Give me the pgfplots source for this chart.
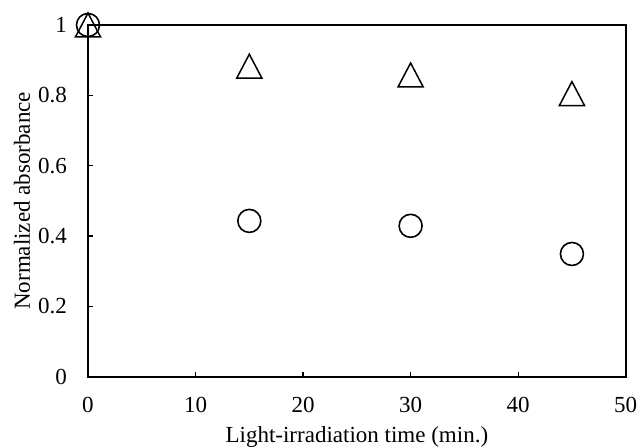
\documentclass[border=0pt]{standalone}
\usepackage{pgfplots}
\pgfplotsset{compat=1.18}
\usepackage{fontspec}
\setmainfont{Liberation Serif}
\begin{document}
\fontsize{23bp}{27bp}\selectfont
\begin{tikzpicture}
\useasboundingbox (-88bp,-71.3bp) rectangle (550bp,376.7bp);
\begin{axis}[
  at={(0,0)}, anchor=south west,
  scale only axis,
  width=537.7bp, height=351.7bp,
  xmin=0, xmax=50, ymin=0, ymax=1,
  xtick={0,10,20,30,40,50},
  ytick={0,0.2,0.4,0.6,0.8,1},
  yticklabels={0,0.2,0.4,0.6,0.8,1},
  xticklabels={0,10,20,30,40,50},
  tick align=inside,
  xtick pos=bottom, ytick pos=left,
  major tick length=5bp,
  axis line style={line width=1.6bp},
  every tick/.style={line width=1.2bp, black},
  tick label style={font=\fontsize{23bp}{27bp}\selectfont, inner sep=0pt},
  label style={font=\fontsize{23bp}{27bp}\selectfont},
  xticklabel style={anchor=base, yshift=-36bp},
  yticklabel style={anchor=east, xshift=-21bp},
  xlabel={Light-irradiation time (min.)},
  ylabel={Normalized absorbance},
  xlabel style={at={(axis description cs:0.5,-0.1706)}, anchor=center},
  ylabel style={at={(axis description cs:-0.1227,0.5)}, anchor=center},
  clip=false,
]
\addplot[only marks, mark=triangle, mark size=14.5bp, mark options={line width=1.5bp, black, fill=none, yshift=-4bp, yscale=1.1}]
  coordinates {(0,1) (15,0.883) (30,0.858) (45,0.805)};
\addplot[only marks, mark=o, mark size=11.5bp, mark options={line width=1.6bp, black, fill=none}]
  coordinates {(0,1) (15,0.443) (30,0.429) (45,0.349)};
\end{axis}
\end{tikzpicture}
\end{document}
